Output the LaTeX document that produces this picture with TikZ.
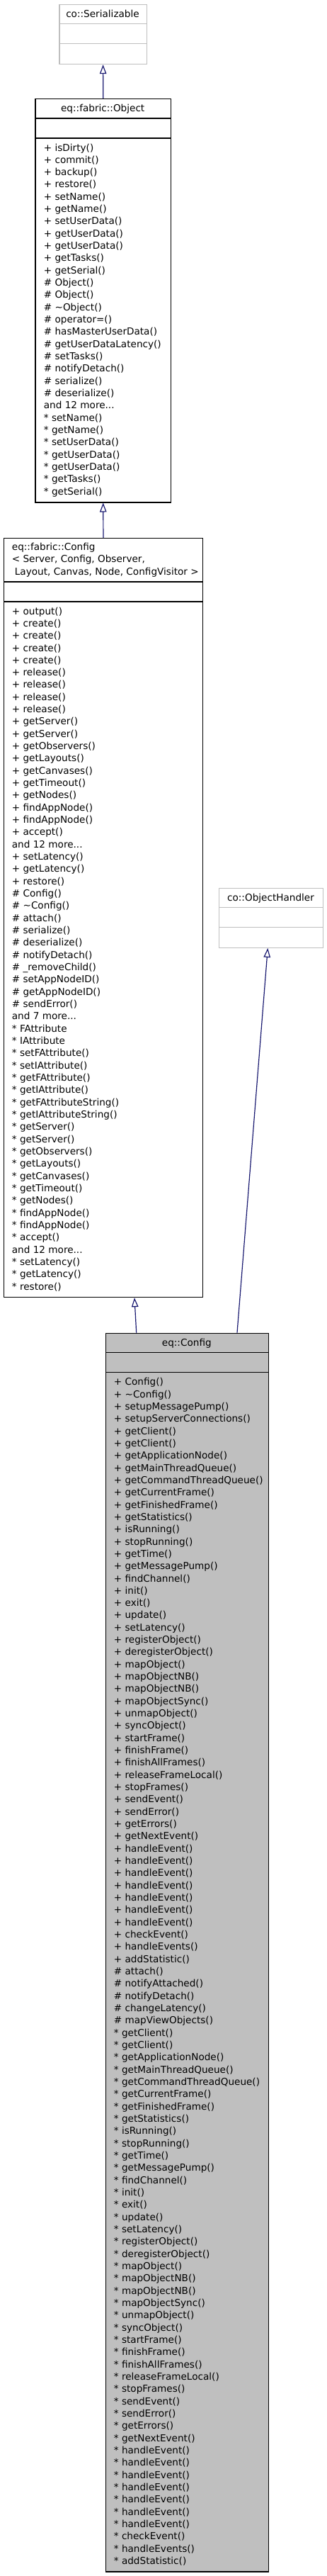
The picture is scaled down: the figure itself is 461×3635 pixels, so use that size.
\documentclass[tikz,border=0pt]{standalone}
\usepackage{fontspec}
\setmainfont{DejaVu Sans}
\usetikzlibrary{arrows.meta}
\definecolor{boxgray}{HTML}{BFBFBF}
\definecolor{arrowblue}{HTML}{191970}
\newcommand\tdots{...}
\newcommand\memlist[4]{%
  \foreach \mem [count=\i] in {#4} {\node[mem] (#1-\i) at (#2, #3+\i*17.33-17.33) {\mem};}%
}
\newcommand\divs[1]{%
  \draw[divline] ([yshift=-28pt]#1.north west) -- ([yshift=-28pt]#1.north east);
  \draw[divline] ([yshift=-56pt]#1.north west) -- ([yshift=-56pt]#1.north east);
}
\begin{document}
\begin{tikzpicture}[x=1pt,y=-1pt,
  txt/.style={inner sep=0pt, font=\fontsize{13.6pt}{17.33pt}\selectfont, text=black},
  mem/.style={txt, anchor=base west},
  ttl/.style={txt, anchor=base},
  classbox/.style={draw=black, fill=white, line width=1.2pt, anchor=north west, inner sep=0pt},
  cobox/.style={classbox, draw=boxgray},
  mainbox/.style={classbox, fill=boxgray},
  divline/.style={line width=1.2pt},
  inh/.style={draw=arrowblue, line width=1.2pt, -{Triangle[open, length=13pt, width=9.5pt]}}
]
\useasboundingbox (0,0) rectangle (461,3635);

% co::Serializable
\node[cobox, minimum width=123.4pt, minimum height=84.3pt] (ser) at (83.3,5.7) {};
\begin{scope}[divline/.append style={draw=boxgray}]
\divs{ser}
\end{scope}
\node[ttl] (ser-t) at (145,24.2) {co::Serializable};

% eq::fabric::Object
\node[classbox, minimum width=191.7pt, minimum height=569.3pt] (obj) at (49.3,139) {};
\divs{obj}
\node[ttl] (obj-t) at (145.2,157.5) {eq::fabric::Object};
\memlist{obj}{61.7}{213}{+ isDirty(), + commit(), + backup(), + restore(), + setName(), + getName(), + setUserData(), + getUserData(), + getUserData(), + getTasks(), + getSerial(), \# Object(), \# Object(), \# \textasciitilde Object(), \# operator=(), \# hasMasterUserData(), \# getUserDataLatency(), \# setTasks(), \# notifyDetach(), \# serialize(), \# deserialize(), and 12 more\tdots, * setName(), * getName(), * setUserData(), * getUserData(), * getUserData(), * getTasks(), * getSerial()}

% eq::fabric::Config
\node[classbox, minimum width=280.7pt, minimum height=1071pt] (cfg) at (5,759) {};
\draw[divline] ([yshift=-62pt]cfg.north west) -- ([yshift=-62pt]cfg.north east);
\draw[divline] ([yshift=-90pt]cfg.north west) -- ([yshift=-90pt]cfg.north east);
\node[mem] (cfg-t1) at (16.7,776.5) {eq::fabric::Config};
\node[mem] (cfg-t2) at (16.7,793.8) {< Server, Config, Observer,};
\node[mem] (cfg-t3) at (16.7,811.1) {\hspace*{4pt}Layout, Canvas, Node, ConfigVisitor >};
\memlist{cfg}{16.7}{867}{+ output(), + create(), + create(), + create(), + create(), + release(), + release(), + release(), + release(), + getServer(), + getServer(), + getObservers(), + getLayouts(), + getCanvases(), + getTimeout(), + getNodes(), + findAppNode(), + findAppNode(), + accept(), and 12 more\tdots, + setLatency(), + getLatency(), + restore(), \# Config(), \# \textasciitilde Config(), \# attach(), \# serialize(), \# deserialize(), \# notifyDetach(), \# \_removeChild(), \# setAppNodeID(), \# getAppNodeID(), \# sendError(), and 7 more\tdots, * FAttribute, * IAttribute, * setFAttribute(), * setIAttribute(), * getFAttribute(), * getIAttribute(), * getFAttributeString(), * getIAttributeString(), * getServer(), * getServer(), * getObservers(), * getLayouts(), * getCanvases(), * getTimeout(), * getNodes(), * findAppNode(), * findAppNode(), * accept(), and 12 more\tdots, * setLatency(), * getLatency(), * restore()}

% co::ObjectHandler
\node[cobox, minimum width=147pt, minimum height=84pt] (oh) at (309,1252.7) {};
\begin{scope}[divline/.append style={draw=boxgray}]
\divs{oh}
\end{scope}
\node[ttl] (oh-t) at (382.5,1271.2) {co::ObjectHandler};

% eq::Config
\node[mainbox, minimum width=229.7pt, minimum height=1747.6pt] (eqc) at (149,1880.7) {};
\divs{eqc}
\node[ttl] (eqc-t) at (263.8,1899.2) {eq::Config};
\memlist{eqc}{160.7}{1954.7}{+ Config(), + \textasciitilde Config(), + setupMessagePump(), + setupServerConnections(), + getClient(), + getClient(), + getApplicationNode(), + getMainThreadQueue(), + getCommandThreadQueue(), + getCurrentFrame(), + getFinishedFrame(), + getStatistics(), + isRunning(), + stopRunning(), + getTime(), + getMessagePump(), + findChannel(), + init(), + exit(), + update(), + setLatency(), + registerObject(), + deregisterObject(), + mapObject(), + mapObjectNB(), + mapObjectNB(), + mapObjectSync(), + unmapObject(), + syncObject(), + startFrame(), + finishFrame(), + finishAllFrames(), + releaseFrameLocal(), + stopFrames(), + sendEvent(), + sendError(), + getErrors(), + getNextEvent(), + handleEvent(), + handleEvent(), + handleEvent(), + handleEvent(), + handleEvent(), + handleEvent(), + handleEvent(), + checkEvent(), + handleEvents(), + addStatistic(), \# attach(), \# notifyAttached(), \# notifyDetach(), \# changeLatency(), \# mapViewObjects(), * getClient(), * getClient(), * getApplicationNode(), * getMainThreadQueue(), * getCommandThreadQueue(), * getCurrentFrame(), * getFinishedFrame(), * getStatistics(), * isRunning(), * stopRunning(), * getTime(), * getMessagePump(), * findChannel(), * init(), * exit(), * update(), * setLatency(), * registerObject(), * deregisterObject(), * mapObject(), * mapObjectNB(), * mapObjectNB(), * mapObjectSync(), * unmapObject(), * syncObject(), * startFrame(), * finishFrame(), * finishAllFrames(), * releaseFrameLocal(), * stopFrames(), * sendEvent(), * sendError(), * getErrors(), * getNextEvent(), * handleEvent(), * handleEvent(), * handleEvent(), * handleEvent(), * handleEvent(), * handleEvent(), * handleEvent(), * checkEvent(), * handleEvents(), * addStatistic()}

% inheritance connectors
\draw[inh] (obj.north) -- (ser.south);
\draw[inh] (cfg.north) -- (obj.south);
\draw[inh] ([xshift=43.7pt]eqc.north west) -- ([xshift=185pt]cfg.south west);
\draw[inh] ([xshift=186pt]eqc.north west) -- ([xshift=69.3pt]oh.south west);
\end{tikzpicture}
\end{document}
